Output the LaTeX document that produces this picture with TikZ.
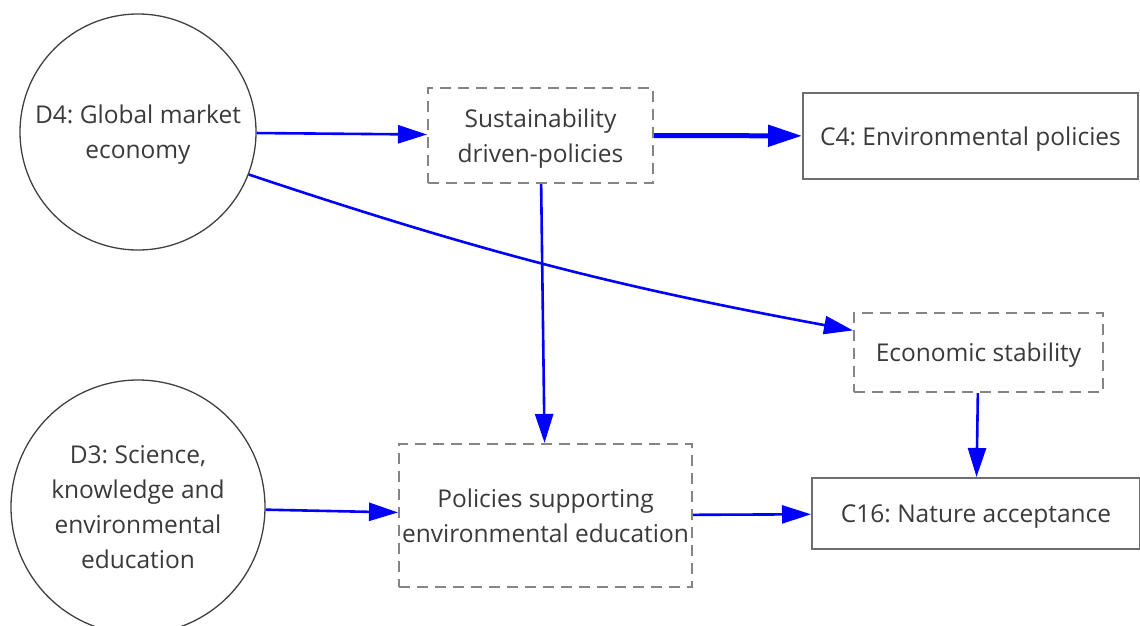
\documentclass[tikz,border=0pt]{standalone}
\usepackage{fontspec}
\setmainfont{Open Sans}
\usepackage{tikz}
\usetikzlibrary{arrows.meta}
\frenchspacing

\definecolor{txtgray}{HTML}{3A3A3A}
\definecolor{boxgray}{HTML}{6E6E6E}
\definecolor{dashgray}{HTML}{858585}
\definecolor{linkblue}{HTML}{0000FF}

\begin{document}
\begin{tikzpicture}[x=1pt,y=-1pt,
	every node/.style={font=\fontsize{24.5}{35}\selectfont,text=txtgray,align=center,inner sep=0pt,text depth=0pt}]
	\useasboundingbox (0,0) rectangle (1140,625);
	\begin{scope}[every node/.append style={circle,draw=black!75,line width=1.3pt}]
		\node[minimum size=236pt] (d4) at (138,132) {D4: Global market\\economy};
		\node[minimum size=254pt,text depth=] (d3) at (138,507) {D3: Science,\\knowledge and\\environmental\\education};
	\end{scope}

	\begin{scope}[every node/.append style={rectangle,draw=dashgray,line width=2pt,dash pattern=on 11pt off 7pt}]
		\node[minimum width=225pt,minimum height=95pt] (sust) at (540.5,135.5) {Sustainability\\driven-policies};
		\node[minimum width=249pt,minimum height=79pt] (econ) at (978.5,352.5) {Economic stability};
		\node[minimum width=293pt,minimum height=143pt] (pol) at (545.5,515.5) {Policies supporting\\environmental education};
	\end{scope}

	\begin{scope}[every node/.append style={rectangle,draw=boxgray,line width=2pt}]
		\node[minimum width=335pt,minimum height=86pt] (c4) at (970.5,136) {C4: Environmental policies};
		\node[minimum width=328pt,minimum height=71pt] (c16) at (976,513.5) {C16: Nature acceptance};
	\end{scope}

	\begin{scope}[>={Triangle[length=29pt,width=18pt]},
	              every edge/.style={draw=linkblue,line width=2.6pt}]
		\path (d4) edge[->] (sust);
		\path (sust) edge[->,line width=5pt,>={Triangle[length=34pt,width=21pt]}] (c4);
		\path (d4.-21) edge[->,bend right=4] (econ.170);
		\path (sust) edge[->] (pol);
		\path (d3) edge[->] (pol);
		\path (econ) edge[->] (c16);
		\path (pol) edge[->] (c16);
	\end{scope}
\end{tikzpicture}
\end{document}
